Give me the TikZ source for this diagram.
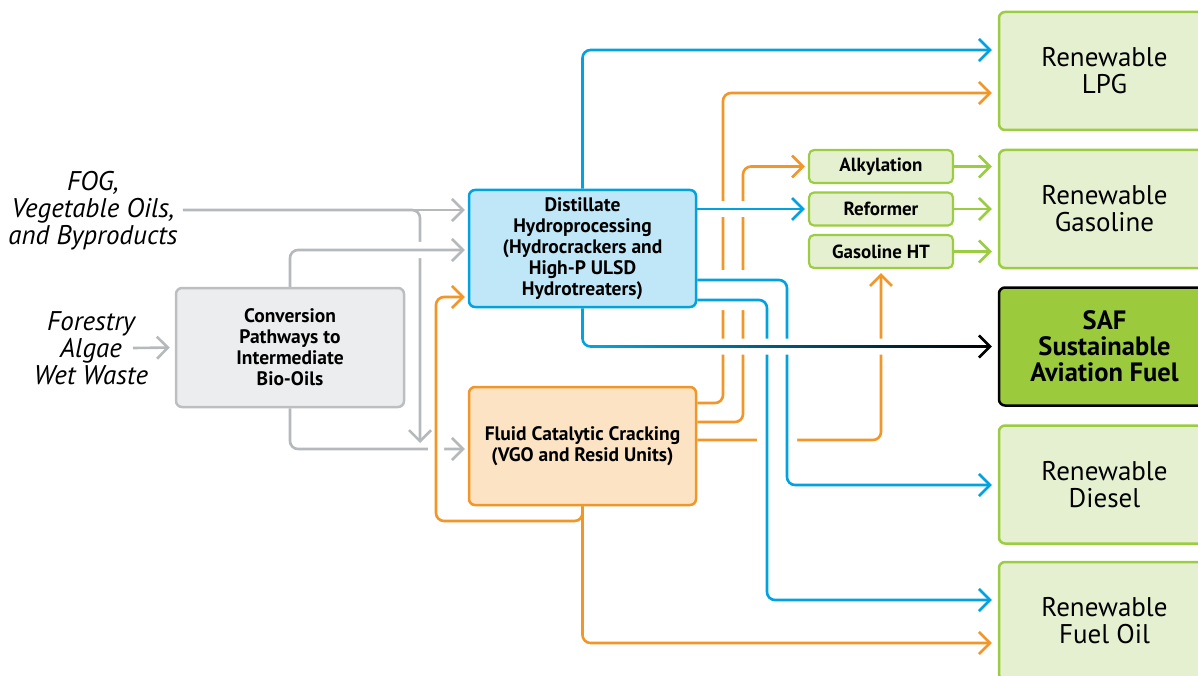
\documentclass[tikz,border=0pt]{standalone}
\usepackage{fontspec}
\setmainfont{PT Sans}
\usetikzlibrary{arrows.meta,calc}
\definecolor{cblue}{RGB}{0,163,224}
\definecolor{corange}{RGB}{242,150,40}
\definecolor{cgrey}{RGB}{182,185,188}
\definecolor{cgreen}{RGB}{156,204,66}
\definecolor{lgreen}{RGB}{229,240,208}
\definecolor{safgreen}{RGB}{155,203,60}
\definecolor{lblue}{RGB}{192,231,247}
\definecolor{lorange}{RGB}{251,227,196}
\definecolor{lgrey}{RGB}{236,237,239}
\definecolor{bgrey}{RGB}{188,190,192}
\pgfdeclarelayer{bg}
\pgfsetlayers{bg,main}
\begin{document}
\begin{tikzpicture}[x=1pt,y=-1pt,
  every node/.style={inner sep=0pt, align=center},
  box/.style={draw, line width=2.5pt, rounded corners=6pt},
  procbox/.style={box, minimum width=227pt, minimum height=117pt, font=\bfseries\fontsize{19.5}{21}\selectfont},
  smallbox/.style={box, line width=2.2pt, fill=lgreen, draw=cgreen, minimum width=144pt, minimum height=33pt, rounded corners=5pt, font=\bfseries\fontsize{19}{20}\selectfont},
  outbox/.style={box, fill=lgreen, draw=cgreen, minimum width=211pt, minimum height=118pt, font=\fontsize{27}{27}\selectfont},
  srctext/.style={font=\itshape\fontsize{27}{27}\selectfont},
  conn/.style={line width=2.6pt, rounded corners=8pt, -{Straight Barb[length=11pt,width=22pt]}},
  gline/.style={conn, draw=cgrey},
  oline/.style={conn, draw=corange},
  bline/.style={conn, draw=cblue},
  vline/.style={conn, draw=cgreen, shorten >=6pt},
  halo/.style={preaction={draw=white, line width=#1, arrows=-}},
  toout/.style={shorten >=6pt},
  toproc/.style={shorten >=3pt}
]
\useasboundingbox (0,0) rectangle (1198,676);

% ---- nodes ----
\node[srctext] (fog) at (93,211) {FOG,\\Vegetable Oils,\\and Byproducts};
\node[srctext] (forest) at (91,348) {Forestry\\Algae\\Wet Waste};

\node[procbox, fill=lgrey, draw=bgrey, minimum width=228pt, minimum height=119pt] (conv) at (290,347.5)
  {Conversion\\Pathways to\\Intermediate\\Bio-Oils};
\node[procbox, fill=lblue, draw=cblue] (dist) at (582.5,248.5)
  {Distillate\\Hydroprocessing\\(Hydrocrackers and\\High-P ULSD\\Hydrotreaters)};
\node[procbox, fill=lorange, draw=corange, minimum height=118pt] (fcc) at (582.5,446)
  {Fluid Catalytic Cracking\\(VGO and Resid Units)};

\node[smallbox] (alk) at (881,166.5) {Alkylation};
\node[smallbox] (ref) at (881,209) {Reformer};
\node[smallbox] (ght) at (881,251.5) {Gasoline HT};

\node[outbox] (lpg) at (1104.5,71) {Renewable\\LPG};
\node[outbox] (gas) at (1104.5,209) {Renewable\\Gasoline};
\node[outbox, fill=safgreen, draw=black, font=\bfseries\fontsize{26.5}{26}\selectfont] (saf) at (1104.5,346.5)
  {SAF\\Sustainable\\Aviation Fuel};
\node[outbox] (dies) at (1104.5,484.5) {Renewable\\Diesel};
\node[outbox] (fo) at (1104.5,621) {Renewable\\Fuel Oil};

\coordinate (merge) at (420,449);

% ---- connectors ----
\begin{pgfonlayer}{bg}
% orange from FCC
\draw[oline, toout] (fcc.east |- 0,403) -- (723,403) -- (723,93) -- (lpg.west |- 0,93);
\draw[oline, toproc] (fcc.east |- 0,422) -- (743,422) |- (alk.west);
\draw[oline, shorten >=4pt] (fcc.east |- 0,440) -| (ght.south);
% grey to FCC
\draw[gline, toproc] (conv.south) |- (fcc.west |- 0,449);
% orange recycle loop
\draw[oline, toproc, halo=16pt] (fcc.south) |- (436,521) |- (dist.west |- 0,297);
\draw[oline, toout] (fcc.south) |- (fo.west |- 0,643);
% grey inputs
\draw[gline, toproc] (fog.east |- 0,210) ++(5,0) -- (dist.west |- 0,210);
\draw[gline, shorten >=6pt] (fog.east |- 0,210) ++(5,0) -| (merge);
\draw[gline, toproc, halo=16pt] (conv.north) |- (dist.west |- 0,250);
\draw[gline, shorten >=5pt] ([xshift=42pt]forest.center) -- (conv.west);
% blue from distillate
\draw[bline, toout] (dist.north) |- (lpg.west |- 0,50);
\draw[bline, toproc, halo=16pt] (dist.east |- ref.west) -- (ref.west);
\draw[bline, toout, halo=20pt] (dist.east |- 0,280) -- (787,280) |- (dies.west |- 0,485);
\draw[bline, toout, halo=20pt] (dist.east |- 0,300) -- (767,300) |- (fo.west |- 0,600);
% SAF
\draw[bline, toout, halo=16pt, -{Straight Barb[length=11pt,width=22pt,color=black]}] (dist.south) |- (saf.west);
\shade[left color=cblue, right color=black] (600,345.2) rectangle (988,347.8);
% green
\draw[vline] (alk.east) -- (gas.west |- alk.east);
\draw[vline] (ref.east) -- (gas.west |- ref.east);
\draw[vline] (ght.east) -- (gas.west |- ght.east);
\end{pgfonlayer}
\end{tikzpicture}
\end{document}
